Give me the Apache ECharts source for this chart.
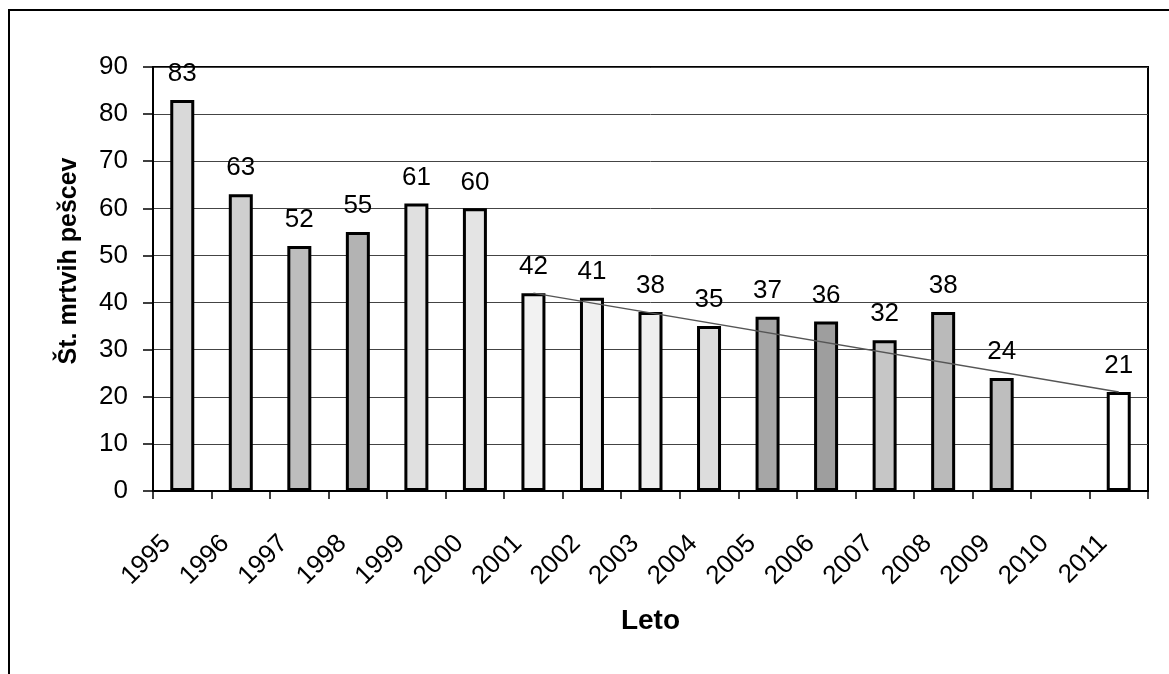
<!DOCTYPE html>
<html>
<head>
<meta charset="utf-8">
<script src="https://cdn.jsdelivr.net/npm/echarts@6/dist/echarts.min.js"></script>
<style>
html,body{margin:0;padding:0;background:#fff;}
#chart{width:1169px;height:674px;}
</style>
</head>
<body>
<div id="chart"></div>
<script>
const years = ['1995','1996','1997','1998','1999','2000','2001','2002','2003','2004','2005','2006','2007','2008','2009','2010','2011'];
const deaths = [83, 63, 52, 55, 61, 60, 42, 41, 38, 35, 37, 36, 32, 38, 24, null, 21];
const trendValues = [null, null, null, null, null, null, 42, null, null, null, null, null, null, null, null, null, 21];
const yTicks = [0, 10, 20, 30, 40, 50, 60, 70, 80, 90];
const barFills = ['#d9d9d9','#cfcfcf','#bdbdbd','#b3b3b3','#e0e0e0','#e4e4e4','#f2f2f2','#f0f0f0','#efefef','#dddddd','#a6a6a6','#9e9e9e','#c6c6c6','#bababa','#bebebe','#ffffff','#ffffff'];

const chart = echarts.init(document.getElementById('chart'));
const font = '"Liberation Sans", Arial, sans-serif';
chart.setOption({
  animation: false,
  backgroundColor: '#fff',
  textStyle: { fontFamily: font },
  grid: { left: 153, right: 21, top: 67, bottom: 183, show: true, borderColor: '#000', borderWidth: 2, backgroundColor: '#fff' },
  graphic: [{
    type: 'polyline',
    shape: { points: [[9, 674], [9, 10], [1169, 10]] },
    style: { stroke: '#000', lineWidth: 2, fill: null }
  }],
  xAxis: {
    type: 'category',
    data: years,
    name: 'Leto',
    nameLocation: 'middle',
    nameGap: 116,
    nameTextStyle: { fontSize: 28, fontWeight: 'bold', color: '#000', fontFamily: font },
    axisLine: { lineStyle: { color: '#000', width: 2 } },
    axisTick: { show: true, length: 8, lineStyle: { color: '#000', width: 1.5 } },
    axisLabel: { rotate: 45, fontSize: 26, color: '#000', margin: 33, interval: 0, fontFamily: font, padding: [0, 22, 0, 0] }
  },
  yAxis: {
    type: 'value',
    min: yTicks[0],
    max: yTicks[yTicks.length - 1],
    interval: 10,
    name: 'Št. mrtvih pešcev',
    nameLocation: 'middle',
    nameGap: 71,
    nameRotate: 90,
    nameTextStyle: { fontSize: 25, fontWeight: 'bold', color: '#000', fontFamily: font, padding: [0, 0, 0, 36] },
    axisLine: { show: true, lineStyle: { color: '#000', width: 2 } },
    axisTick: { show: true, length: 10, lineStyle: { color: '#000', width: 1.5 } },
    axisLabel: { fontSize: 26, color: '#000', margin: 25, fontFamily: font },
    splitLine: { show: true, lineStyle: { color: '#444', width: 1 } }
  },
  series: [{
    type: 'bar',
    data: deaths.map((v, i) => v === null ? '-' : { value: v, itemStyle: { color: barFills[i] } }),
    barWidth: 24,
    itemStyle: { borderColor: '#000', borderWidth: 3 },
    label: { show: true, position: 'top', distance: 13, fontSize: 26, color: '#000', fontFamily: font }
  }, {
    type: 'line',
    data: trendValues,
    connectNulls: true,
    symbol: 'none',
    z: 5,
    lineStyle: { color: '#555', width: 1.5 }
  }]
});
</script>
</body>
</html>
